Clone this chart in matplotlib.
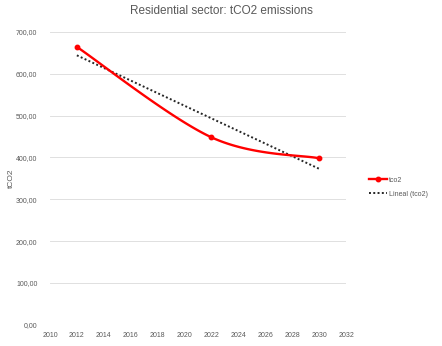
import numpy as np
import matplotlib.pyplot as plt

plt.rcParams['font.family'] = ['Liberation Sans', 'DejaVu Sans']

# emisiones del sector residencial
years = [2012, 2022, 2030]
tco2 = [664.0, 448.0, 398.0]

xticks = list(range(2010, 2033, 2))
yticks = list(range(0, 701, 100))


def smooth(xs, ys, n=60):
    # curva suavizada tipo Excel (bezier con tension 1/6)
    p = np.column_stack([xs, ys]).astype(float)
    ext = np.vstack([p[0], p, p[-1]])
    out = []
    for i in range(len(p) - 1):
        p0, p3 = ext[i + 1], ext[i + 2]
        c1 = p0 + (ext[i + 2] - ext[i]) / 6.0
        c2 = p3 - (ext[i + 3] - ext[i + 1]) / 6.0
        t = np.linspace(0, 1, n)[:, None]
        seg = ((1 - t) ** 3) * p0 + 3 * ((1 - t) ** 2) * t * c1 \
            + 3 * (1 - t) * t ** 2 * c2 + t ** 3 * p3
        out.append(seg)
    s = np.vstack(out)
    return s[:, 0], s[:, 1]


fig = plt.figure(figsize=(4.42, 3.46), dpi=100)
ax = fig.add_axes([0.113, 0.061, 0.67, 0.847])

sx, sy = smooth(years, tco2)
ax.plot(sx, sy, color='#ff0000', lw=1.7, solid_capstyle='round', zorder=3)
ax.plot(years, tco2, 'o', color='#ff0000', ms=3.2, zorder=4)
# linea de leyenda
ax.plot([], [], '-o', color='#ff0000', lw=1.7, ms=3.2, label='tco2')

# tendencia lineal
m, b = np.polyfit(years, tco2, 1)
tx = np.array([years[0], years[-1]])
ax.plot(tx, m * tx + b, color='#262626', ls=(0, (1, 1.2)), lw=1.4,
        label='Lineal (tco2)', zorder=2)

ax.set_xlim(2010, 2032)
ax.set_ylim(0, 700)
ax.set_xticks(xticks)
ax.set_yticks(yticks)
ax.set_yticklabels([f'{v:.2f}'.replace('.', ',') for v in yticks])
ax.tick_params(length=0, labelsize=5.0, colors='#595959')
ax.tick_params(axis='y', pad=9)
ax.tick_params(axis='x', pad=5)
ax.grid(axis='y', color='#e0e0e0', lw=0.7)
ax.set_axisbelow(True)
for s in ax.spines.values():
    s.set_visible(False)
ax.axhline(0, color='#e0e0e0', lw=0.7, zorder=1)

ax.set_ylabel('tCO2', fontsize=6.0, color='#595959', labelpad=1)
fig.suptitle('Residential sector: tCO2 emissions', x=0.5, y=0.985,
             fontsize=8.5, color='#595959')

leg = ax.legend(loc='center left', bbox_to_anchor=(1.055, 0.47), frameon=False,
                fontsize=5.0, handlelength=2.6, handletextpad=0.3,
                labelspacing=1.0, labelcolor='#595959')

fig.savefig('out.png', dpi=100)
